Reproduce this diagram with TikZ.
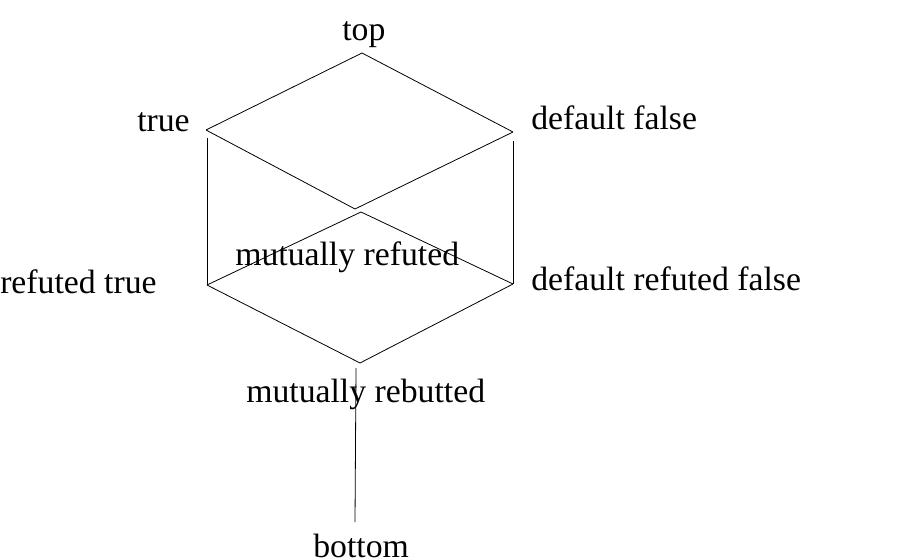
\documentclass[tikz,border=0pt]{standalone}
\usepackage{fontspec}
\setmainfont{Liberation Serif}
\begin{document}
\begin{tikzpicture}[x=0.75pt,y=-0.75pt,
  lbl/.style={anchor=base west,inner sep=0pt,font=\fontsize{25.3pt}{30pt}\selectfont},
  edge/.style={line width=0.6pt,black}]
\useasboundingbox (0,0) rectangle (911,560);
% junction points
\coordinate (pTop) at (362,53);
\coordinate (pTrue) at (206,130);
\coordinate (pTrueV) at (207,138);
\coordinate (pDF) at (513,132);
\coordinate (pDFV) at (513,141);
\coordinate (pMRu) at (355,209);
\coordinate (pMRd) at (361,212);
\coordinate (pRT) at (207,285);
\coordinate (pDRF) at (513,284);
\coordinate (pMRb) at (360,363);
\coordinate (pMRbV) at (356,368);
\coordinate (pBot) at (355,522);
% labels
\node[lbl] (top) at (342,41) {top};
\node[lbl] (true) at (137,132) {true};
\node[lbl] (dfalse) at (531,130) {default false};
\node[lbl] (rtrue) at (0,293) {refuted true};
\node[lbl] (mref) at (235,265) {mutually refuted};
\node[lbl] (drfalse) at (531,290) {default refuted false};
\node[lbl] (mreb) at (246,402) {mutually rebutted};
\node[lbl] (bottom) at (313,557) {bottom};
% edges
\draw[edge] (pTrue) -- (pTop) -- (pDF);
\draw[edge] (pTrue) -- (pMRu) -- (pDF);
\draw[edge] (pTrueV) -- (pRT);
\draw[edge] (pDFV) -- (pDRF);
\draw[edge] (pRT) -- (pMRd) -- (pDRF);
\draw[edge] (pRT) -- (pMRb) -- (pDRF);
\draw[edge] (pMRbV) -- (pBot);
\end{tikzpicture}
\end{document}
